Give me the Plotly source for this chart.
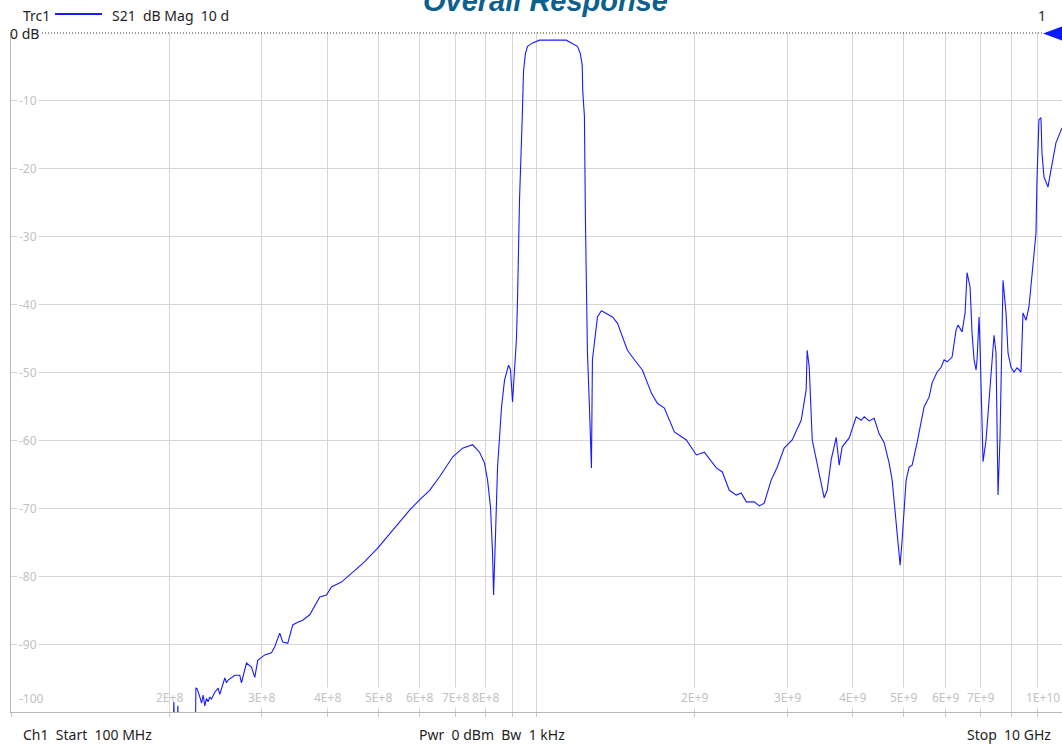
import math
import plotly.graph_objects as go

# ---- data (frequency in MHz, S21 in dB) ----
freq_mhz = [
    100, 150, 200, 203.5, 204.1, 205.0, 207.0, 207.7, 208.6, 224.3, 224.8,
    226.1, 228.8, 230.5, 232.1, 233.8, 235.5, 237.2, 238.9, 240.7, 244.3,
    247.8, 249.6, 253.3, 255.2, 257.1, 258.9,
    266.6, 272.5, 274.5, 280.6, 286.8, 291.0, 294.8, 304.0, 313.1, 317.6,
    324.6, 328.9, 336.2, 343.6, 351.2, 359.0, 370.2, 378.4, 386.9, 398.4,
    407.2, 425.3, 441.1, 456.8, 471.0,
    498.6, 525.5, 548.9, 573.5, 599.2, 626.0, 654.0, 692.3, 723.3, 755.7,
    779.2, 796.4, 807.0, 817.6, 824.8, 828.5, 835.8, 843.1, 858.0, 869.3,
    884.7, 892.4, 900.3, 908.2, 916.2, 920.2, 928.3, 939.4, 944.8, 953.0,
    961.4, 982.7, 1013.2, 1138.9, 1164.1, 1196.5, 1211.0, 1221.6, 1224.7, 1233.6,
    1239.1, 1250.0, 1261.0, 1272.1, 1277.7, 1288.9, 1306.2, 1329.0, 1394.7, 1425.6,
    1489.3, 1535.6, 1590.4, 1654.2, 1698.2, 1751.0, 1829.6, 1928.2, 2014.5, 2086.3,
    2198.7, 2257.2, 2327.4, 2399.8, 2452.9, 2507.1, 2596.4, 2654.6, 2712.0, 2796.4,
    2870.7, 2960.0, 3066.1, 3189.2, 3259.7, 3274.0, 3303.7, 3347.3, 3421.3, 3527.6,
    3574.3, 3637.4, 3717.8, 3767.0, 3816.8, 3935.8, 4058.5, 4148.3, 4203.1, 4296.0,
    4391.1, 4488.2, 4587.5, 4688.9, 4750.8, 4813.5, 4877.1, 4920.0, 4963.2, 5051.0,
    5117.8, 5185.4, 5299.9, 5465.1, 5585.6, 5660.6, 5785.4, 5888.4, 5966.1, 6044.9,
    6178.2, 6287.0, 6342.3, 6454.5, 6539.8, 6597.3, 6684.4, 6743.2, 6802.4, 6862.2,
    6892.3, 6953.0, 6983.4, 7044.8, 7075.6, 7169.0, 7263.6, 7359.6, 7424.3, 7489.5,
    7522.4, 7555.4, 7621.8, 7688.8, 7722.5, 7824.6, 7893.4, 7997.6, 8103.2, 8210.2,
    8355.7, 8429.2, 8540.5, 8653.3, 8767.6, 8922.0, 8961.1, 9039.9, 9119.3, 9159.4,
    9239.9, 9403.2, 9527.4, 9737.6, 10000,
]
s21_db = [
    -106, -105, -104, -104, -98.5, -104, -104, -99.1, -104, -104, -96.5,
    -96.6, -97.8, -98.7, -97.5, -99.1, -98.0, -98.5, -97.8, -98.1, -97.1,
    -96.5, -97.4, -95.7, -95.0, -95.7, -95.3,
    -94.6, -94.6, -95.7, -92.8, -93.4, -94.9, -92.4, -91.6, -91.3, -90.4,
    -88.4, -89.7, -89.9, -87.2, -86.8, -86.5, -85.7, -84.3, -83.1, -82.8,
    -81.6, -80.9, -79.9, -78.8, -77.9,
    -75.9, -73.8, -72.1, -70.3, -68.8, -67.4, -65.4, -62.5, -61.2, -60.7,
    -61.8, -63.4, -65.9, -69.9, -76.6, -82.8, -73.7, -64.0, -55.1, -51.2,
    -49.0, -49.7, -54.4, -49.3, -44.9, -39.4, -24.7, -12.6, -5.7, -3.1,
    -2.1, -1.6, -1.2, -1.2, -1.6, -2.1, -3.1, -4.8, -8.7, -12.4,
    -27.6, -47.1, -55.1, -64.1, -48.2, -45.3, -41.9, -41.0, -41.9, -42.8,
    -46.8, -48.2, -49.7, -53.1, -54.6, -55.3, -58.8, -60.0, -62.2, -61.8,
    -64.1, -64.7, -67.4, -68.1, -67.8, -69.1, -69.1, -69.7, -69.3, -65.9,
    -64.0, -61.2, -60.0, -57.1, -52.6, -46.8, -49.3, -60.0, -63.4, -68.5,
    -67.4, -62.9, -59.6, -63.7, -61.0, -59.7, -56.6, -57.1, -56.6, -57.2,
    -56.8, -59.1, -60.4, -63.4, -65.9, -70.7, -75.4, -78.4, -74.7, -65.9,
    -64.0, -63.7, -60.4, -55.1, -53.7, -51.6, -50.0, -49.3, -48.2, -48.5,
    -47.8, -43.8, -43.1, -44.1, -41.3, -35.4, -37.5, -44.3, -48.2, -49.7,
    -48.2, -41.9, -46.3, -56.0, -63.2, -60.0, -54.1, -49.3, -44.6, -47.2,
    -58.5, -68.1, -59.6, -43.8, -36.5, -41.3, -47.2, -49.3, -50.0, -49.4,
    -50.0, -41.3, -42.4, -40.4, -36.0, -29.6, -21.8, -12.9, -12.6, -17.8,
    -21.3, -22.8, -20.3, -16.3, -14.1,
]
assert len(freq_mhz) == len(s21_db)

grid_freqs_hz = [m * 10 ** e for e in (8, 9) for m in range(1, 10)] + [1e10]
x_label_freqs_hz = [2e8, 3e8, 4e8, 5e8, 6e8, 7e8, 8e8, 2e9, 3e9, 4e9, 5e9, 6e9, 7e9, 1e10]
x_label_texts = ["2E+8", "3E+8", "4E+8", "5E+8", "6E+8", "7E+8", "8E+8",
                 "2E+9", "3E+9", "4E+9", "5E+9", "6E+9", "7E+9", "1E+10"]
y_label_vals = [-10, -20, -30, -40, -50, -60, -70, -80, -90, -100]

title_text = "Overall Response"
header_trace = "Trc1"
header_meas = "S21\u00a0\u00a0dB Mag\u00a0\u00a010 d"
footer_left = "Ch1\u00a0\u00a0Start\u00a0\u00a0100 MHz"
footer_mid = "Pwr\u00a0\u00a00 dBm\u00a0\u00a0Bw\u00a0\u00a01 kHz"
footer_right = "Stop\u00a0\u00a010 GHz"

# ---- figure ----
W, H = 1062, 745
ML, MR, MT, MB = 11, 0, 32, 33
PW, PH = W - ML - MR, H - MT - MB
UI_FONT = "Noto Sans, Open Sans, sans-serif"
LABEL_GRAY = "#c2c2c2"
GRID = "#d6d6d6"


def px_x(p):
    return (p - ML) / PW


def px_y(p):
    return 1 - (p - MT) / PH


fig = go.Figure()
fig.add_trace(go.Scatter(
    x=[f * 1e6 for f in freq_mhz], y=s21_db, mode="lines",
    line=dict(color="#1a1aff", width=1.1), hoverinfo="skip", showlegend=False,
))

annotations = []
for v in y_label_vals:
    annotations.append(dict(
        x=px_x(17), xref="paper", xanchor="left",
        y=v, yref="y", yanchor="bottom" if v == -100 else "middle",
        yshift=3 if v == -100 else 0,
        text=str(v), showarrow=False, bgcolor="white", borderpad=1,
        font=dict(family=UI_FONT, size=12, color=LABEL_GRAY),
    ))
for f, t in zip(x_label_freqs_hz, x_label_texts):
    last = f == 1e10
    annotations.append(dict(
        x=math.log10(f), xref="x", xanchor="right" if last else "center",
        y=-100, yref="y", yanchor="bottom", yshift=4,
        text=t, showarrow=False,
        bgcolor="rgba(0,0,0,0)" if f == 2e8 else "white", borderpad=1,
        font=dict(family=UI_FONT, size=12, color=LABEL_GRAY),
    ))

annotations += [
    dict(x=px_x(8), xref="paper", xanchor="left", y=px_y(33), yref="paper",
         yanchor="middle", text="0 dB", showarrow=False,
         font=dict(family=UI_FONT, size=14, color="#1e1e1e")),
    dict(x=px_x(21), xref="paper", xanchor="left", y=px_y(15), yref="paper",
         yanchor="middle", text=header_trace, showarrow=False,
         font=dict(family=UI_FONT, size=14, color="#1e1e1e")),
    dict(x=px_x(110), xref="paper", xanchor="left", y=px_y(15), yref="paper",
         yanchor="middle", text=header_meas, showarrow=False,
         font=dict(family=UI_FONT, size=14, color="#1e1e1e")),
    dict(x=px_x(1042), xref="paper", xanchor="center", y=px_y(15), yref="paper",
         yanchor="middle", text="1", showarrow=False,
         font=dict(family=UI_FONT, size=14, color="#2a2a2a")),
    dict(x=px_x(545), xref="paper", xanchor="center", y=px_y(1), yref="paper",
         yanchor="middle", text="<b><i>" + title_text + "</i></b>", showarrow=False,
         font=dict(family="Liberation Sans, Arial, sans-serif", size=29, color="#0d5f8e")),
    dict(x=px_x(21), xref="paper", xanchor="left", y=px_y(734), yref="paper",
         yanchor="middle", text=footer_left, showarrow=False,
         font=dict(family=UI_FONT, size=14, color="#1e1e1e")),
    dict(x=px_x(417), xref="paper", xanchor="left", y=px_y(734), yref="paper",
         yanchor="middle", text=footer_mid, showarrow=False,
         font=dict(family=UI_FONT, size=14, color="#1e1e1e")),
    dict(x=px_x(1053), xref="paper", xanchor="right", y=px_y(734), yref="paper",
         yanchor="middle", text=footer_right, showarrow=False,
         font=dict(family=UI_FONT, size=14, color="#1e1e1e")),
]

shapes = [
    # reference (0 dB) dotted line
    dict(type="line", xref="paper", yref="paper", x0=px_x(42), x1=px_x(1043),
         y0=px_y(33), y1=px_y(33), line=dict(color="#333333", width=1, dash="1px,2px")),
    # reference-position triangle
    dict(type="path", xref="paper", yref="paper",
         path=f"M {px_x(1043)},{px_y(33.5)} L {px_x(1062)},{px_y(26.5)} L {px_x(1062)},{px_y(40.5)} Z",
         fillcolor="#0a1aff", line=dict(width=0)),
    # legend line in header
    dict(type="line", xref="paper", yref="paper", x0=px_x(55), x1=px_x(102),
         y0=px_y(14), y1=px_y(14), line=dict(color="#1a1aff", width=2)),
]

fig.update_layout(
    width=W, height=H, autosize=False,
    margin=dict(l=ML, r=MR, t=MT, b=MB, pad=0),
    paper_bgcolor="white", plot_bgcolor="white",
    showlegend=False,
    xaxis=dict(
        type="log", range=[8, 10], tickvals=grid_freqs_hz, showticklabels=False,
        showgrid=True, gridcolor=GRID, gridwidth=1,
        ticks="outside", ticklen=4, tickcolor="#c8c8c8",
        showline=True, linecolor="#b8b8b8", linewidth=1,
        zeroline=False, fixedrange=True,
    ),
    yaxis=dict(
        range=[-100, 0], tickvals=[-90, -80, -70, -60, -50, -40, -30, -20, -10],
        showticklabels=False, showgrid=True, gridcolor=GRID, gridwidth=1,
        showline=True, linecolor="#b8b8b8", linewidth=1,
        zeroline=False, fixedrange=True,
    ),
    annotations=annotations,
    shapes=shapes,
)

fig.write_html(
    "out.html",
    config={"displayModeBar": False, "staticPlot": True},
    post_script="document.body.style.margin='0';document.body.style.overflow='hidden';",
)
